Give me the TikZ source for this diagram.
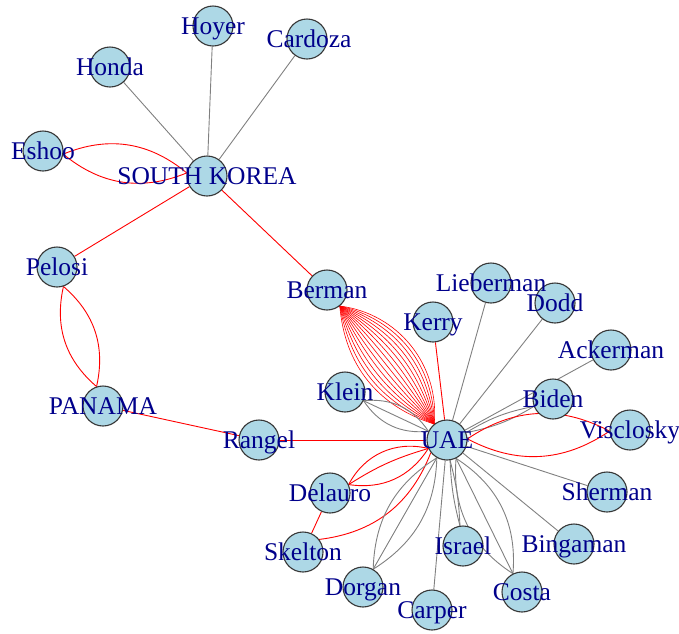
\documentclass[tikz,border=0pt]{standalone}
\usepackage{fontspec}
\setmainfont{Liberation Serif}
\usetikzlibrary{calc}
\pgfdeclarelayer{bg}
\pgfsetlayers{bg,main}
\definecolor{vfill}{RGB}{173,216,230}
\definecolor{vline}{RGB}{55,55,55}
\definecolor{vtext}{RGB}{0,0,139}
\definecolor{egray}{RGB}{128,128,128}
\definecolor{ered}{RGB}{255,0,0}
\newcommand\medge[4]{\draw[#1] ($(#2)!20.5pt!(#3)$) to[bend left=#4] ($(#3)!20.5pt!(#2)$);}
\begin{document}
\begin{tikzpicture}[x=1pt,y=-1pt,
 vtx/.style={circle,draw=vline,fill=vfill,line width=1.1pt,minimum size=40pt,inner sep=0pt},
 lbl/.style={text=vtext,anchor=base,inner sep=0pt,font=\fontsize{25.5}{26}\selectfont},
 gedge/.style={draw=egray,line width=0.9pt},
 redge/.style={draw=ered,line width=0.9pt},
]
\useasboundingbox (0,0) rectangle (679,633);
% vertices
\foreach \n/\x/\y in {hoyer/213/26, cardoza/307/39, honda/110/67, eshoo/43/151, sk/207/176,
  pelosi/57/267, panama/103/406, rangel/259/440, berman/327/290, kerry/433/322,
  lieberman/491/283, dodd/555/303, ackerman/611/350, klein/345/392, biden/553/399,
  visclosky/630/430, uae/447/440, delauro/330/493, skelton/303/552, dorgan/363/587,
  carper/432/610, israel/463/546, costa/522/592, bingaman/574/544, sherman/607/492}
  {\node[vtx] (\n) at (\x,\y) {};}
% labels
\node[lbl] (hoyer-t) at (213,34) {Hoyer};
\node[lbl] (cardoza-t) at (309,47) {Cardoza};
\node[lbl] (honda-t) at (110,75) {Honda};
\node[lbl] (eshoo-t) at (43,159) {Eshoo};
\node[lbl] (sk-t) at (207,184) {SOUTH KOREA};
\node[lbl] (pelosi-t) at (57,275) {Pelosi};
\node[lbl] (panama-t) at (103,414) {PANAMA};
\node[lbl] (rangel-t) at (259,448) {Rangel};
\node[lbl] (berman-t) at (327,298) {Berman};
\node[lbl] (kerry-t) at (433,330) {Kerry};
\node[lbl] (lieberman-t) at (491,291) {Lieberman};
\node[lbl] (dodd-t) at (555,311) {Dodd};
\node[lbl] (ackerman-t) at (611,358) {Ackerman};
\node[lbl] (klein-t) at (345,400) {Klein};
\node[lbl] (biden-t) at (553,407) {Biden};
\node[lbl] (visclosky-t) at (630,438) {Visclosky};
\node[lbl] (uae-t) at (447,448) {UAE};
\node[lbl] (delauro-t) at (330,501) {Delauro};
\node[lbl] (skelton-t) at (303,560) {Skelton};
\node[lbl] (dorgan-t) at (363,595) {Dorgan};
\node[lbl] (carper-t) at (432,618) {Carper};
\node[lbl] (israel-t) at (463,554) {Israel};
\node[lbl] (costa-t) at (522,600) {Costa};
\node[lbl] (bingaman-t) at (574,552) {Bingaman};
\node[lbl] (sherman-t) at (607,500) {Sherman};
% edges
\begin{pgfonlayer}{bg}
\draw[gedge] (honda) -- (sk);
\draw[gedge] (hoyer) -- (sk);
\draw[gedge] (cardoza) -- (sk);
\draw[gedge] (lieberman) -- (uae);
\draw[gedge] (dodd) -- (uae);
\draw[gedge] (ackerman) -- (uae);
\draw[gedge] (sherman) -- (uae);
\draw[gedge] (bingaman) -- (uae);
\draw[gedge] (carper) -- (uae);
\draw[redge] (pelosi) -- (sk);
\draw[redge] (sk) -- (berman);
\draw[redge] (panama) -- (rangel);
\draw[redge] (rangel) -- (uae);
\draw[redge] (kerry) -- (uae);
\draw[redge] (delauro) -- (skelton);
\medge{redge}{eshoo}{sk}{31}
\medge{redge}{eshoo}{sk}{-31}
\medge{redge}{pelosi}{panama}{31}
\medge{redge}{pelosi}{panama}{-31}
\foreach \i in {0,...,14}{\pgfmathsetmacro\bb{-34+78*\i/14}\medge{redge,line width=0.6pt}{berman}{uae}{\bb}}
\medge{gedge}{klein}{uae}{31}
\medge{gedge}{klein}{uae}{0}
\medge{gedge}{klein}{uae}{-31}
\medge{gedge}{biden}{uae}{10}
\medge{gedge}{biden}{uae}{-10}
\medge{redge}{uae}{visclosky}{31}
\medge{redge}{uae}{visclosky}{-31}
\medge{redge}{delauro}{uae}{38}
\medge{redge}{delauro}{uae}{8}
\medge{redge}{delauro}{uae}{-33}
\medge{redge}{skelton}{uae}{-31}
\medge{gedge}{dorgan}{uae}{28}
\medge{gedge}{dorgan}{uae}{0}
\medge{gedge}{dorgan}{uae}{-28}
\medge{gedge}{israel}{uae}{6}
\medge{gedge}{israel}{uae}{-6}
\medge{gedge}{costa}{uae}{31}
\medge{gedge}{costa}{uae}{0}
\medge{gedge}{costa}{uae}{-31}
\end{pgfonlayer}
\end{tikzpicture}
\end{document}
